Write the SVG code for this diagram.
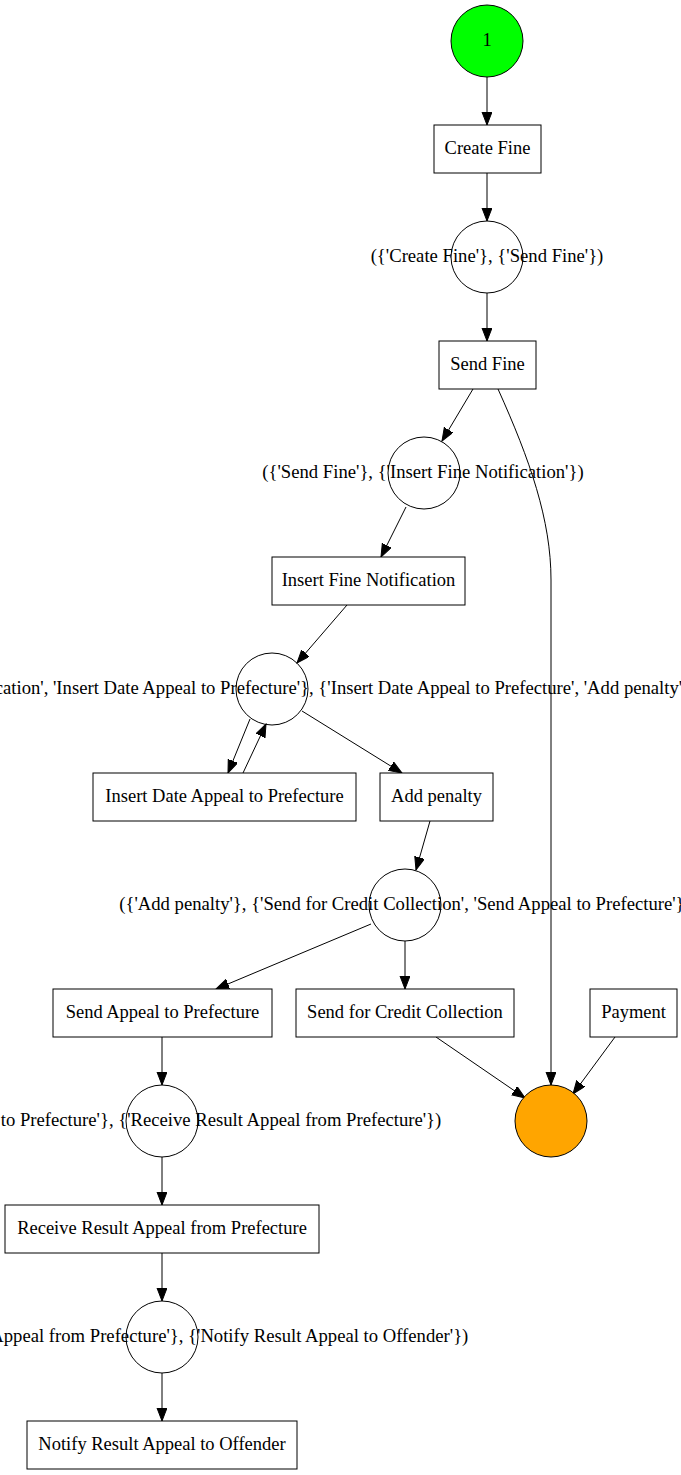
<svg xmlns="http://www.w3.org/2000/svg" width="681" height="1475" viewBox="0 0 681 1475">
<defs>
<marker id="arr" markerUnits="userSpaceOnUse" markerWidth="14" markerHeight="11" refX="13" refY="5" orient="auto">
<path d="M0,0 L13,5 L0,10 Z" fill="#000" stroke="#000" stroke-width="1"/>
</marker>
</defs>
<style>
text{font-family:"Liberation Serif","Times New Roman",serif;font-size:18.5px;fill:#000;text-anchor:middle}
.lbl{font-size:18.67px}
.box{fill:#fff;stroke:#000;stroke-width:1}
.pl{fill:none;stroke:#000;stroke-width:1}
.e{fill:none;stroke:#000;stroke-width:1;marker-end:url(#arr)}
</style>
<rect x="0" y="0" width="681" height="1475" fill="#fff"/>
<g id="connectors">
<path class="e" d="M487,77 L487,125"/>
<path class="e" d="M487,173 L487,221"/>
<path class="e" d="M487,293 L487,341"/>
<path class="e" d="M473,389 L442,441"/>
<path class="e" d="M498,389 C530,460 551,520 551,580 L551,1085"/>
<path class="e" d="M406,507 L381,557"/>
<path class="e" d="M347,605 L297,663"/>
<path class="e" d="M250,719 L228,773"/>
<path class="e" d="M243,773 L266,724"/>
<path class="e" d="M302,711 L402,773"/>
<path class="e" d="M430,821 L416,870"/>
<path class="e" d="M371,924 L216,989"/>
<path class="e" d="M405,941 L405,989"/>
<path class="e" d="M436,1037 L525,1098"/>
<path class="e" d="M615,1037 L573,1094"/>
<path class="e" d="M162,1037 L162,1085"/>
<path class="e" d="M162,1157 L162,1205"/>
<path class="e" d="M162,1253 L162,1301"/>
<path class="e" d="M162,1373 L162,1421"/>
</g>
<g id="source">
<circle cx="487" cy="41" r="36" fill="#00ff00" stroke="#000"/>
<text x="487" y="46">1</text>
</g>
<g id="create_fine">
<rect class="box" x="434" y="125" width="107" height="48"/>
<text x="487.5" y="154">Create Fine</text>
</g>
<g id="p1">
<circle class="pl" cx="487" cy="257" r="36"/>
<text class="lbl" x="487" y="262">({'Create Fine'}, {'Send Fine'})</text>
</g>
<g id="send_fine">
<rect class="box" x="439" y="341" width="97" height="48"/>
<text x="487.5" y="370">Send Fine</text>
</g>
<g id="p2">
<circle class="pl" cx="424" cy="473" r="36"/>
<text class="lbl" x="423" y="478">({'Send Fine'}, {'Insert Fine Notification'})</text>
</g>
<g id="insert_fine_notification">
<rect class="box" x="272" y="557" width="193" height="48"/>
<text x="368.5" y="586">Insert Fine Notification</text>
</g>
<g id="p3">
<circle class="pl" cx="272" cy="689" r="36"/>
<text class="lbl" x="272" y="694">({'Insert Fine Notification', 'Insert Date Appeal to Prefecture'}, {'Insert Date Appeal to Prefecture', 'Add penalty'})</text>
</g>
<g id="insert_date_appeal">
<rect class="box" x="93" y="773" width="263" height="48"/>
<text x="224.5" y="802">Insert Date Appeal to Prefecture</text>
</g>
<g id="add_penalty">
<rect class="box" x="380" y="773" width="113" height="48"/>
<text x="436.5" y="802">Add penalty</text>
</g>
<g id="p4">
<circle class="pl" cx="405" cy="905" r="36"/>
<text class="lbl" x="405" y="910">({'Add penalty'}, {'Send for Credit Collection', 'Send Appeal to Prefecture'})</text>
</g>
<g id="send_appeal">
<rect class="box" x="53" y="989" width="219" height="48"/>
<text x="162.5" y="1018">Send Appeal to Prefecture</text>
</g>
<g id="send_credit">
<rect class="box" x="296" y="989" width="218" height="48"/>
<text x="405" y="1018">Send for Credit Collection</text>
</g>
<g id="payment">
<rect class="box" x="590" y="989" width="87" height="48"/>
<text x="633.5" y="1018">Payment</text>
</g>
<g id="sink">
<circle cx="551" cy="1121" r="36" fill="#ffa500" stroke="#000"/>
</g>
<g id="p5">
<circle class="pl" cx="162" cy="1121" r="36"/>
<text class="lbl" x="162" y="1126">({'Send Appeal to Prefecture'}, {'Receive Result Appeal from Prefecture'})</text>
</g>
<g id="receive_result">
<rect class="box" x="5" y="1205" width="314" height="48"/>
<text x="162" y="1234">Receive Result Appeal from Prefecture</text>
</g>
<g id="p6">
<circle class="pl" cx="162" cy="1337" r="36"/>
<text class="lbl" x="162" y="1342">({'Receive Result Appeal from Prefecture'}, {'Notify Result Appeal to Offender'})</text>
</g>
<g id="notify_result">
<rect class="box" x="27" y="1421" width="270" height="48"/>
<text x="162" y="1450">Notify Result Appeal to Offender</text>
</g>
</svg>
